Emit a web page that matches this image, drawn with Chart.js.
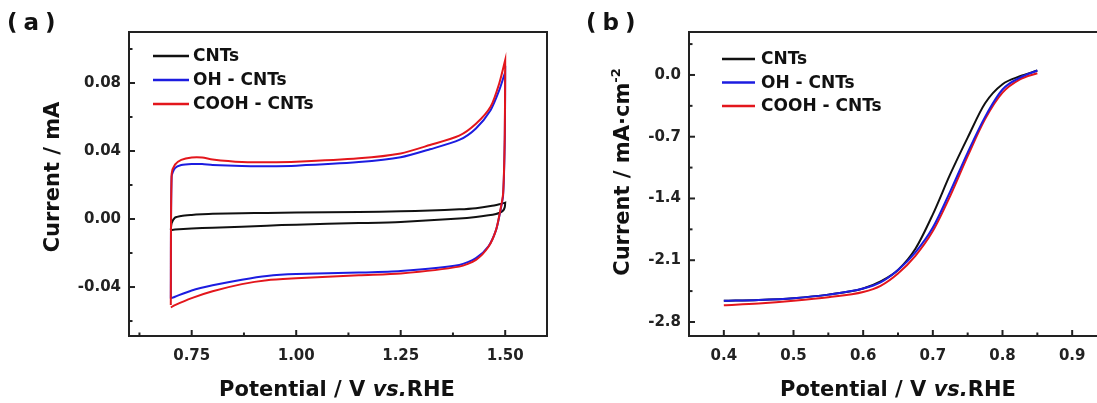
<!DOCTYPE html>
<html>
<head>
<meta charset="utf-8">
<script src="https://cdn.jsdelivr.net/npm/chart.js@4.4.0/dist/chart.umd.min.js"></script>
<style>
  html, body { margin: 0; padding: 0; background: #fff; }
  body { width: 1097px; height: 403px; overflow: hidden; position: relative; font-family: "DejaVu Sans", sans-serif; color: #111; }
  .panel { position: absolute; top: 0; width: 560px; height: 403px; }
  .tag { position: absolute; top: 11px; font-weight: bold; font-size: 23px; line-height: 1; letter-spacing: 6px; white-space: nowrap; }
  .ytitle { position: absolute; font-weight: bold; font-size: 21px; line-height: 1; white-space: nowrap;
            transform: translate(-50%, -50%) rotate(-90deg); }
  .ytitle sup { font-size: 13px; vertical-align: 9px; }
  .xtitle { position: absolute; top: 379px; font-weight: bold; font-size: 21px; line-height: 1; white-space: nowrap;
            transform: translateX(-50%); }
</style>
</head>
<body>
<canvas id="cv" class="panel" width="560" height="403" style="left:0"></canvas>
<canvas id="lsv" class="panel" width="560" height="403" style="left:560px"></canvas>

<div class="tag" style="left:7px">(a)</div>
<div class="tag" style="left:586px">(b)</div>
<div class="ytitle" style="left:52px; top:177px">Current / mA</div>
<div class="ytitle" style="left:621px; top:172px">Current / mA·cm<sup>-2</sup></div>
<div class="xtitle" style="left:337px">Potential / V <i>vs.</i>RHE</div>
<div class="xtitle" style="left:898px">Potential / V <i>vs.</i>RHE</div>

<script>
// (a) CV 데이터 - 정방향 / 역방향 스캔 전위
const cvFwdV = [0.700, 0.702, 0.710, 0.725, 0.750, 0.775, 0.80, 0.87, 0.93, 1.00, 1.15, 1.25, 1.32, 1.39, 1.43, 1.465, 1.486, 1.500];
const cvRevV = [1.500, 1.499, 1.495, 1.487, 1.478, 1.46, 1.43, 1.39, 1.25, 1.15, 1.00, 0.93, 0.87, 0.80, 0.75, 0.71, 0.700];

const cntsFwdI = [-0.0065, -0.0025, 0.0008, 0.0018, 0.0024, 0.0028, 0.0031, 0.0034, 0.0036, 0.0038, 0.0042, 0.0045, 0.0050, 0.0057, 0.0064, 0.0076, 0.0087, 0.0096];
const cntsRevI = [0.0096, 0.0070, 0.0050, 0.0037, 0.0030, 0.0022, 0.0012, 0.0003, -0.0017, -0.0024, -0.0033, -0.0039, -0.0045, -0.0051, -0.0056, -0.0062, -0.0065];
const ohFwdI = [-0.0467, 0.0250, 0.0300, 0.0318, 0.0324, 0.0323, 0.0318, 0.0312, 0.0311, 0.0314, 0.0335, 0.0363, 0.0410, 0.0465, 0.0533, 0.0640, 0.0759, 0.0865];
const ohRevI = [0.0865, 0.0470, 0.0140, 0.0030, -0.0065, -0.0160, -0.0230, -0.0270, -0.0306, -0.0315, -0.0324, -0.0335, -0.0357, -0.0390, -0.0420, -0.0457, -0.0467];
const coohFwdI = [-0.0506, 0.0265, 0.0320, 0.0348, 0.0362, 0.0362, 0.0350, 0.0335, 0.0334, 0.0337, 0.0357, 0.0386, 0.0435, 0.0490, 0.0560, 0.0660, 0.0800, 0.0935];
const coohRevI = [0.0935, 0.0500, 0.0150, 0.0035, -0.0065, -0.0163, -0.0240, -0.0280, -0.0320, -0.0330, -0.0349, -0.0360, -0.0383, -0.0425, -0.0465, -0.0506, -0.0520];

const cvXTicks = [0.625, 0.75, 0.875, 1.0, 1.125, 1.25, 1.375, 1.5];
const cvXLabels = [0.75, 1.0, 1.25, 1.5];
const cvYTicks = [-0.06, -0.04, -0.02, 0, 0.02, 0.04, 0.06, 0.08, 0.10];
const cvYLabels = [-0.04, 0, 0.04, 0.08];

// (b) LSV 데이터
const lsvV = [0.40, 0.45, 0.50, 0.55, 0.60, 0.625, 0.65, 0.675, 0.70, 0.725, 0.75, 0.775, 0.80, 0.825, 0.85];
const cntsLsv = [-2.56, -2.55, -2.53, -2.49, -2.42, -2.34, -2.21, -1.97, -1.58, -1.125, -0.71, -0.32, -0.105, -0.015, 0.05];
const ohLsv = [-2.56, -2.55, -2.53, -2.49, -2.42, -2.35, -2.21, -2.01, -1.73, -1.32, -0.88, -0.475, -0.165, -0.03, 0.05];
const coohLsv = [-2.61, -2.59, -2.56, -2.52, -2.46, -2.39, -2.25, -2.05, -1.77, -1.37, -0.92, -0.50, -0.20, -0.05, 0.02];

const lsvXTicks = [0.4, 0.45, 0.5, 0.55, 0.6, 0.65, 0.7, 0.75, 0.8, 0.85, 0.9];
const lsvXLabels = [0.4, 0.5, 0.6, 0.7, 0.8, 0.9];
const lsvYTicks = [-2.8, -2.45, -2.1, -1.75, -1.4, -1.05, -0.7, -0.35, 0, 0.35];
const lsvYLabels = [-2.8, -2.1, -1.4, -0.7, 0];

const seriesNames = ['CNTs', 'OH - CNTs', 'COOH - CNTs'];
const seriesColors = ['#111111', '#1c1ce0', '#e3161c'];

const tickFont = { family: 'DejaVu Sans', weight: 'bold', size: 15 };

function loop(fwd, rev) {
    return cvFwdV.map((v, i) => ({ x: v, y: fwd[i] }))
        .concat(cvRevV.map((v, i) => ({ x: v, y: rev[i] })));
}
function pairs(ys) {
    return lsvV.map((v, i) => ({ x: v, y: ys[i] }));
}
function has(list, v) {
    return list.some(d => Math.abs(d - v) < 1e-9);
}

// 테두리, 안쪽 눈금, 범례 그리기
const framePlugin = {
    id: 'frame',
    afterDatasetsDraw(chart, args, opts) {
        const { ctx, chartArea: a, scales } = chart;
        ctx.save();
        ctx.strokeStyle = '#222';
        ctx.lineWidth = 2;
        ctx.strokeRect(a.left, a.top, a.right - a.left, a.bottom - a.top);
        scales.x.ticks.forEach(t => {
            const px = scales.x.getPixelForValue(t.value);
            const len = t.label ? 6 : 3.5;
            ctx.beginPath(); ctx.moveTo(px, a.bottom); ctx.lineTo(px, a.bottom - len); ctx.stroke();
        });
        scales.y.ticks.forEach(t => {
            const py = scales.y.getPixelForValue(t.value);
            const len = t.label ? 6 : 3.5;
            ctx.beginPath(); ctx.moveTo(a.left, py); ctx.lineTo(a.left + len, py); ctx.stroke();
        });

        ctx.font = 'bold 17px "DejaVu Sans"';
        ctx.textBaseline = 'middle';
        chart.data.datasets.forEach((ds, i) => {
            const y = a.top + opts.top + i * opts.gap;
            const x0 = a.left + opts.left;
            ctx.strokeStyle = ds.borderColor;
            ctx.lineWidth = 2.5;
            ctx.beginPath(); ctx.moveTo(x0, y); ctx.lineTo(x0 + opts.len, y); ctx.stroke();
            ctx.fillStyle = '#111';
            ctx.fillText(ds.label, x0 + opts.len + opts.pad, y + 1);
        });
        ctx.restore();
    }
};

function axis(min, max, list, labels, digits, isX) {
    return {
        type: 'linear',
        min: min,
        max: max,
        grid: { display: false, drawTicks: false },
        border: { display: false },
        afterBuildTicks: scale => { scale.ticks = list.map(v => ({ value: v })); },
        afterFit: scale => {
            if (isX) scale.height = 67; else scale.width = 129;
        },
        ticks: {
            autoSkip: false,
            maxRotation: 0,
            padding: isX ? 11 : 8,
            color: '#222',
            font: tickFont,
            callback: v => has(labels, v) ? Number(v).toFixed(digits) : ''
        }
    };
}

function baseOptions(xScale, yScale, legend) {
    return {
        responsive: false,
        animation: false,
        layout: { padding: { left: 0, right: 13, top: 32, bottom: 0 } },
        elements: { point: { radius: 0 } },
        plugins: {
            legend: { display: false },
            tooltip: { enabled: false },
            frame: legend
        },
        scales: { x: xScale, y: yScale }
    };
}

// (a) 순환전압전류 곡선
new Chart(document.getElementById('cv'), {
    type: 'scatter',
    data: {
        datasets: [
            { label: seriesNames[0], data: loop(cntsFwdI, cntsRevI), borderColor: seriesColors[0], order: 2 },
            { label: seriesNames[1], data: loop(ohFwdI, ohRevI), borderColor: seriesColors[1], order: 1 },
            { label: seriesNames[2], data: loop(coohFwdI, coohRevI), borderColor: seriesColors[2], order: 0 }
        ].map(d => Object.assign(d, { showLine: true, borderWidth: 2, tension: 0.25, pointRadius: 0 }))
    },
    options: baseOptions(
        axis(0.6, 1.6, cvXTicks, cvXLabels, 2, true),
        axis(-0.0688, 0.11, cvYTicks, cvYLabels, 2, false),
        { left: 24, len: 36, pad: 4, top: 24, gap: 24 }
    ),
    plugins: [framePlugin]
});

// (b) 선형주사전압 곡선
new Chart(document.getElementById('lsv'), {
    type: 'scatter',
    data: {
        datasets: [
            { label: seriesNames[0], data: pairs(cntsLsv), borderColor: seriesColors[0], order: 2 },
            { label: seriesNames[1], data: pairs(ohLsv), borderColor: seriesColors[1], order: 0 },
            { label: seriesNames[2], data: pairs(coohLsv), borderColor: seriesColors[2], order: 1 }
        ].map(d => Object.assign(d, { showLine: true, borderWidth: 2, cubicInterpolationMode: 'monotone', pointRadius: 0 }))
    },
    options: baseOptions(
        axis(0.35, 0.95, lsvXTicks, lsvXLabels, 1, true),
        axis(-2.959, 0.487, lsvYTicks, lsvYLabels, 1, false),
        { left: 33, len: 33, pad: 6, top: 27, gap: 23.5 }
    ),
    plugins: [framePlugin]
});
</script>
</body>
</html>
